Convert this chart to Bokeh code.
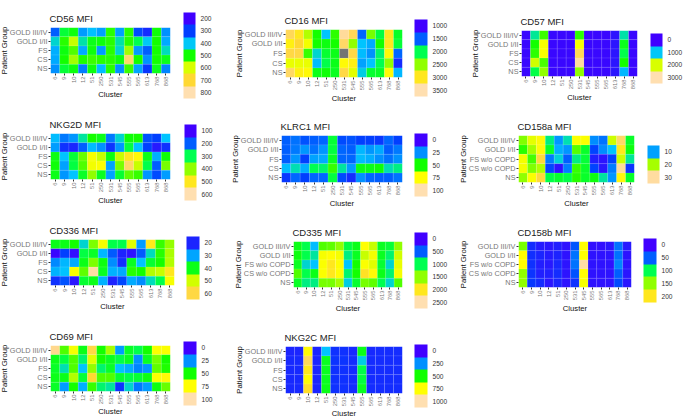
from bokeh.embed import file_html
from bokeh.layouts import column
from bokeh.models import (ColorBar, ColumnDataSource, FactorRange, FixedTicker, Label,
                          LinearColorMapper)
from bokeh.plotting import figure
from bokeh.resources import INLINE
import math

CLUSTERS = ["6", "9", "10", "12", "51", "250", "531", "545", "555", "565", "613", "768", "868"]
GROUPS_A = ["GOLD III/IV", "GOLD I/II", "FS", "CS", "NS"]
GROUPS_B = ["GOLD III/IV", "GOLD I/II", "FS w/o COPD", "CS w/o COPD", "NS"]

CD56 = [
    [320, 460, 490, 360, 395, 365, 510, 365, 510, 310, 270, 495, 350],
    [410, 510, 590, 420, 480, 490, 510, 420, 510, 440, 400, 500, 375],
    [380, 490, 530, 375, 490, 360, 510, 410, 570, 360, 320, 500, 415],
    [375, 500, 570, 505, 520, 510, 510, 490, 730, 500, 350, 500, 480],
    [350, 460, 490, 340, 490, 390, 510, 350, 520, 370, 290, 480, 345],
]
CD16 = [
    [3170, 3000, 2575, 2250, 1825, 2300, 3380, 3170, 1520, 2450, 2050, 3000, 2125],
    [2950, 3080, 2800, 2250, 2200, 2250, 3200, 2500, 1825, 1725, 2250, 3000, 2075],
    [3120, 3120, 2320, 1875, 2100, 2175, None, 3120, 1800, 1625, 1975, 2900, 1525],
    [2750, 2750, 2750, 1800, 2025, 2175, 2900, 2950, 1700, 1825, 2000, 2500, 1300],
    [3200, 2950, 2900, 2175, 2225, 2150, 3120, 2700, 1850, 2100, 2125, 2900, 1775],
]
CD57 = [
    [60, 1120, 1600, 80, 70, 70, 1560, 40, 50, 50, 160, 1100, 50],
    [60, 1500, 2200, 70, 70, 70, 2200, 60, 60, 60, 170, 1400, 60],
    [60, 1570, 2220, 70, 70, 70, 2600, 60, 60, 60, 170, 1230, 60],
    [60, 1980, 1640, 70, 70, 70, 2880, 60, 60, 60, 170, 1500, 60],
    [60, 1240, 1800, 70, 70, 70, 1800, 60, 60, 60, 170, 930, 60],
]
NKG2D = [
    [260, 215, 230, 285, 350, 335, 215, 275, 345, 350, 195, 185, 265],
    [235, 165, 150, 200, 260, 225, 170, 230, 310, 265, 185, 135, 165],
    [340, 265, 315, 385, 465, 425, 340, 425, 500, 480, 335, 250, 345],
    [345, 240, 310, 375, 460, 470, 240, 390, 540, 425, 305, 200, 390],
    [335, 230, 265, 325, 400, 330, 240, 320, 380, 365, 230, 190, 235],
]
KLRC1 = [
    [20, 22, 19, 20, 21, 43, 18, 19, 17, 17, 15, 21, 17],
    [20, 23, 26, 22, 26, 42, 21, 20, 31, 26, 29, 20, 23],
    [20, 26, 17, 28, 29, 45, 21, 21, 32, 30, 25, 22, 25],
    [32, 36, 30, 40, 39, 53, 37, 27, 47, 47, 49, 36, 38],
    [15, 21, 17, 21, 21, 42, 18, 12, 25, 21, 20, 20, 22],
]
CD158A = [
    [19, 22, 24, 13, 9.5, 12.5, 23.5, 23.5, 9.2, 8.4, 21, 27.5, 15],
    [17, 20, 24, 15, 10.7, 9.5, 18, 15, 7, 9.2, 11.6, 25, 16],
    [23, 17.7, 26.4, 8.7, 12, 7.8, 13, 14.5, 4.6, 3.5, 7, 21, 12.8],
    [23, 19, 20.3, 7.2, 3.4, 8.7, 17.4, 15, 7, 3.7, 8.7, 29.5, 6],
    [19.4, 23.5, 26.4, 14, 14.8, 14, 17, 15, 16, 12.7, 9.5, 24.3, 15],
]
CD336 = [
    [40, 40, 41.5, 33.5, 46, 53.7, 36.7, 36.7, 51, 29.3, 57, 43, 47],
    [16, 24, 17, 37, 39, 31.4, 25.5, 20, 17.6, 25.5, 34, 42.5, 48],
    [28, 31.5, 30.4, 40, 46, 40.4, 28.2, 21.5, 39.3, 32.5, 38.3, 41.5, 48.4],
    [31, 32.5, 54, 44.7, 66.4, 39.4, 31, 30.4, 42.5, 41.5, 48.4, 49.5, 57.4],
    [22, 25, 18.2, 38.3, 40, 31, 20, 24.5, 30.4, 28.2, 34, 36.7, 53.7],
]
CD335 = [
    [1175, 1025, 800, 1375, 1400, 1500, 1050, 1175, 1875, 1625, 1150, 1075, 1500],
    [1200, 1025, 925, 1825, 1875, 1825, 950, 1150, 1625, 1800, 1150, 975, 1650],
    [1150, 875, 825, 1850, 2000, 1875, 825, 1250, 1850, 1700, 1100, 875, 1750],
    [1375, 1025, 1175, 1850, 2000, 1875, 975, 1250, 2025, 1900, 1175, 975, 1825],
    [1125, 950, 950, 1450, 1450, 1550, 850, 1100, 1450, 1400, 1000, 875, 1375],
]
CD158B = [
    [145, 30, 18, 15, 20, 12, 48, 188, 10, 10, 14, 55, 17],
    [188, 32, 25, 18, 24, 12, 55, 188, 12, 12, 13, 55, 13],
    [188, 33, 20, 17, 27, 13, 55, 243, 12, 12, 12, 60, 13],
    [150, 35, 22, 22, 30, 13, 47, 188, 12, 12, 12, 50, 15],
    [150, 38, 30, 15, 25, 13, 33, 183, 12, 12, 12, 45, 15],
]
CD69 = [
    [92, 55, 73, 47, 85, 50, 62, 27, 45, 41, 50, 74, 74],
    [47, 42, 55, 39, 68, 50, 46, 41, 46, 25, 46, 58, 50],
    [45, 36, 55, 33, 60, 39, 45, 33, 30, 24, 26, 56, 51],
    [47, 47, 63, 43, 83, 55, 55, 44, 41, 43, 48, 74, 76],
    [45, 27, 50, 30, 53, 39, 37, 14, 35, 23, 27, 48, 57],
]
NKG2C = [
    [100, 100, 760, 100, 330, 130, 130, 110, 470, 110, 120, 120, 120],
    [110, 110, 870, 100, 460, 140, 140, 120, 340, 120, 120, 120, 120],
    [110, 110, 800, 100, 460, 130, 130, 120, 410, 120, 120, 120, 120],
    [110, 110, 760, 100, 460, 130, 130, 120, 420, 120, 120, 120, 120],
    [110, 110, 820, 100, 470, 130, 130, 120, 460, 120, 120, 120, 120],
]

STOPS = [(0, "#4000FF"), (.17, "#0040FF"), (.25, "#0090FF"), (.33, "#00C4FF"), (.4, "#00FF50"),
         (.5, "#10FF00"), (.6, "#90FF00"), (.67, "#DCFF00"), (.75, "#FFFF00"), (.83, "#FFD830"),
         (.92, "#FFD88C"), (1, "#FFDFB0")]


def colour(t):
    t = min(1, max(0, t))
    for (a, ca), (b, cb) in zip(STOPS, STOPS[1:]):
        if t <= b:
            f = (t - a) / (b - a)
            ra = [int(ca[i:i + 2], 16) for i in (1, 3, 5)]
            rb = [int(cb[i:i + 2], 16) for i in (1, 3, 5)]
            return "#%02x%02x%02x" % tuple(round(x + f * (y - x)) for x, y in zip(ra, rb))
    return STOPS[-1][1]


PALETTE = [colour(i / 255) for i in range(256)]
FONT = "Liberation Sans"
LEFT_PANEL = 64


def panel(title, rows, groups, low, high, breaks, cell, frame, legend):
    cx0, cy0, cw, ch = cell
    x0, x1, y0, y1 = frame
    lx0, lx1, ly0, ly1 = legend
    xs, ys, vs = [], [], []
    for g, vals in zip(groups, rows):
        for c, v in zip(CLUSTERS, vals):
            xs.append(c)
            ys.append(g)
            vs.append(float("nan") if v is None else v)
    p = figure(width=None, height=None, frame_width=x1 - x0, frame_height=y1 - y0,
               x_range=FactorRange(*CLUSTERS, range_padding=0),
               y_range=FactorRange(*groups[::-1], range_padding=0),
               output_backend="svg", toolbar_location=None, tools="",
               min_border_left=LEFT_PANEL, min_border_right=cx0 + cw - x1,
               min_border_top=y0 - cy0, min_border_bottom=cy0 + ch - y1,
               x_axis_label="Cluster", y_axis_label="Patient Group", title=title,
               styles={"position": "absolute", "left": f"{x0 - LEFT_PANEL}px", "top": f"{cy0}px"})
    mapper = LinearColorMapper(palette=PALETTE, low=low, high=high, nan_color="#737373")
    p.rect("x", "y", 1, 1, source=ColumnDataSource(dict(x=xs, y=ys, v=vs)),
           fill_color={"field": "v", "transform": mapper},
           line_color="white", line_alpha=.2, line_width=.5)
    p.outline_line_color = None
    p.grid.visible = False
    p.title.text_font = FONT
    p.title.text_font_size = "9.5px"
    p.title.text_font_style = "normal"
    p.title.text_color = "#222222"
    p.title.standoff = 8
    p.title.offset = -1
    for ax in (p.xaxis[0], p.yaxis[0]):
        ax.axis_line_color = None
        ax.major_tick_line_color = "#333333"
        ax.major_tick_line_width = 1
        ax.major_tick_out = 2
        ax.major_tick_in = 0
        ax.minor_tick_line_color = None
        ax.major_label_text_font = FONT
        ax.major_label_text_color = "#777777"
        ax.axis_label_text_font = FONT
        ax.axis_label_text_font_style = "normal"
        ax.axis_label_text_font_size = "7.7px"
        ax.axis_label_text_color = "#111111"
        ax.major_label_standoff = 1
    p.xaxis[0].axis_label_standoff = 0 if y1 > 390 else 1
    p.yaxis[0].axis_label_standoff = -2
    p.xaxis[0].major_label_text_font_size = "5.8px"
    p.xaxis[0].major_label_orientation = math.pi / 2
    p.yaxis[0].major_label_text_font_size = "7.3px"

    step = breaks[1] - breaks[0]
    blocks = [colour((b - low) / (high - low)) for b in breaks][::-1]
    lm = LinearColorMapper(palette=blocks, low=breaks[-1] + step / 2, high=breaks[0] - step / 2)
    cb = ColorBar(color_mapper=lm, ticker=FixedTicker(ticks=list(breaks)),
                  location=(lx0 - x0, y1 - ly1), width=lx1 - lx0, height=ly1 - ly0,
                  padding=0, margin=0, label_standoff=5,
                  major_label_text_font=FONT, major_label_text_font_size="6.6px",
                  major_label_text_color="#333333",
                  major_tick_line_color=None, minor_tick_line_color=None,
                  bar_line_color=None, border_line_color=None, background_fill_color=None)
    p.add_layout(cb, "center")
    p.add_layout(Label(x=lx0 - x0, y=y1 - ly0 + 3, x_units="screen", y_units="screen",
                       text="MFI", text_font=FONT, text_font_size="7.2px", text_color="#111111"))
    return p


COL = [(0, 230), (230, 225), (455, 230)]
ROW = [(0, 105), (105, 102), (207, 106), (313, 105)]


def cell(c, r):
    return (COL[c][0], ROW[r][0], COL[c][1], ROW[r][1])


figures = [
    panel("CD56 MFI", CD56, GROUPS_A, 200, 800, [200, 300, 400, 500, 600, 700, 800], cell(0, 0), (50, 170, 27, 73), (183, 195, 12, 98)),
    panel("CD16 MFI", CD16, GROUPS_A, 1000, 3500, [1000, 1500, 2000, 2500, 3000, 3500], cell(1, 0), (285, 402, 29, 77), (414, 427, 19, 96)),
    panel("CD57 MFI", CD57, GROUPS_A, 0, 3000, [0, 1000, 2000, 3000], cell(2, 0), (521, 637, 30, 76), (650, 662, 33, 83)),
    panel("NKG2D MFI", NKG2D, GROUPS_A, 100, 600, [100, 200, 300, 400, 500, 600], cell(0, 1), (50, 170, 133, 179), (184, 196, 124, 200)),
    panel("KLRC1 MFI", KLRC1, GROUPS_A, 0, 100, [0, 25, 50, 75, 100], cell(1, 1), (281, 402, 135, 182), (414, 427, 133, 196)),
    panel("CD158a MFI", CD158A, GROUPS_B, 2, 31, [10, 20, 30], cell(2, 1), (518, 634, 135, 182), (647, 659, 145, 183)),
    panel("CD336 MFI", CD336, GROUPS_A, 15, 68, [20, 30, 40, 50, 60], cell(0, 2), (50, 174, 239, 285), (186, 199, 236, 299)),
    panel("CD335 MFI", CD335, GROUPS_B, 0, 2500, [0, 500, 1000, 1500, 2000, 2500], cell(1, 2), (293, 402, 241, 287), (414, 427, 232, 308)),
    panel("CD158b MFI", CD158B, GROUPS_B, 0, 250, [0, 50, 100, 150, 200], cell(2, 2), (518, 631, 241, 287), (643, 656, 238, 302)),
    panel("CD69 MFI", CD69, GROUPS_A, 0, 100, [0, 25, 50, 75, 100], cell(0, 3), (50, 170, 345, 391), (183, 196, 341, 405)),
    panel("NKG2C MFI", NKG2C, GROUPS_A, 0, 1000, [0, 250, 500, 750, 1000], cell(1, 3), (285, 402, 346, 393), (414, 427, 344, 407)),
]
p = column(*figures, width=685, height=418,
           styles={"position": "absolute", "left": "0px", "top": "0px"})
open("out.html", "w").write(file_html(p, INLINE))
